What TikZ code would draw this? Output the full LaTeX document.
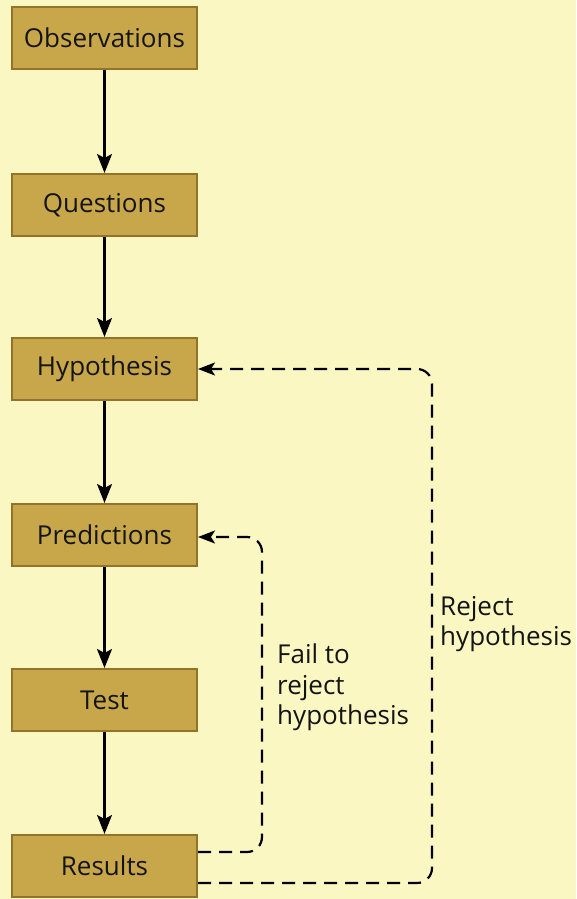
\documentclass[tikz,border=0pt]{standalone}
\usepackage{fontspec}
\setmainfont{Open Sans}
\usetikzlibrary{arrows.meta}
\definecolor{bg}{HTML}{FAF7C2}
\definecolor{boxfill}{HTML}{C8A64A}
\definecolor{boxline}{HTML}{94722A}
\tikzset{
  stepbox/.style={draw=boxline, line width=2pt, fill=boxfill, minimum width=185pt, minimum height=62pt, inner sep=0pt, font=\fontsize{26}{28}\selectfont, text=black!92},
  flow/.style={line width=2.2pt, -{Stealth[length=19pt,width=15pt,inset=4pt]}},
  loop/.style={line width=2.2pt, dash pattern=on 13pt off 8pt, rounded corners=15pt, -{Stealth[length=17pt,width=13pt,inset=4pt]}},
  lbl/.style={font=\fontsize{26}{30.5}\selectfont, align=left, anchor=north west, inner sep=0pt, text=black!92}
}
\begin{document}
\begin{tikzpicture}[x=1pt,y=1pt]
\fill[bg] (0,0) rectangle (576,-899);
\useasboundingbox (0,0) rectangle (576,-899);
\node[stepbox] (obs) at (104.5,-38) {Observations};
\node[stepbox] (que) at (104.5,-205) {Questions};
\node[stepbox] (hyp) at (104.5,-369) {Hypothesis};
\node[stepbox] (pre) at (104.5,-535) {Predictions};
\node[stepbox] (tes) at (104.5,-700) {Test};
\node[stepbox] (res) at (104.5,-866) {Results};
\draw[flow] (obs) -- (que);
\draw[flow] (que) -- (hyp);
\draw[flow] (hyp) -- (pre);
\draw[flow] (pre) -- (tes);
\draw[flow] (tes) -- (res);
\coordinate (a1) at (262,-852);
\coordinate (a2) at (262,-537);
\draw[loop] (res.east |- a1) -- (a1) -- (a2) -- (pre.east |- a2);
\coordinate (b1) at (432,-883);
\coordinate (b2) at (432,-369);
\draw[loop] (res.east |- b1) -- (b1) -- (b2) -- (hyp.east);
\node[lbl] (fail) at (277,-644) {Fail to\\reject\\hypothesis};
\node[lbl] (rej) at (440,-596) {Reject\\hypothesis};
\end{tikzpicture}
\end{document}
